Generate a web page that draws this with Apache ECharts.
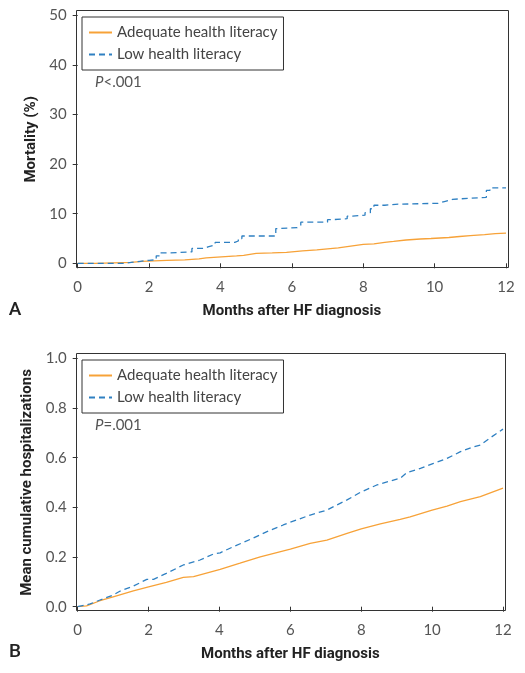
<!DOCTYPE html>
<html><head><meta charset="utf-8">
<script src="https://cdn.jsdelivr.net/npm/echarts@6/dist/echarts.min.js"></script>
<style>html,body{margin:0;padding:0;background:#fff}#c{width:525px;height:673px}</style>
</head><body><div id="c"></div>
<script>
// ---- data ----
const seriesNames = ['Adequate health literacy', 'Low health literacy'];
const xTicks = [0, 2, 4, 6, 8, 10, 12];
const mortTicks = [0, 10, 20, 30, 40, 50];
const hospTicks = [0.0, 0.2, 0.4, 0.6, 0.8, 1.0];

// Panel A: mortality (%)
const mortAdqX = [0,0.5,1.0,1.5,1.8,2.5,3.0,3.4,3.6,4.45,4.65,5.0,5.45,5.85,6.3,6.7,7.0,7.3,7.5,7.8,8.0,8.3,8.6,8.85,9.2,9.6,9.9,10.4,10.7,11.0,11.4,11.7,12];
const mortAdqY = [0,0.1,0.2,0.4,0.6,0.7,0.9,1.1,1.5,1.6,2.0,2.1,2.2,2.5,2.7,2.9,3.1,3.3,3.6,3.8,3.9,4.2,4.4,4.7,4.9,5.0,5.2,5.4,5.6,5.8,6.0,6.1,6.2];
const mortLowX = [0,1.3,1.5,1.75,2.0,2.2,2.3,2.6,3.2,3.55,3.65,3.85,4.4,4.5,4.6,5.55,5.65,6.15,6.25,7.0,7.15,7.55,7.7,8.05,8.2,8.3,8.6,8.9,10.1,10.3,10.5,11.45,11.55,12];
const mortLowY = [0,0.2,0.4,0.6,0.7,1.5,2.1,2.3,3.0,3.3,3.7,4.2,4.5,5.0,5.5,7.0,7.2,7.6,8.3,8.8,9.0,9.5,9.7,10.2,11.0,11.7,11.9,12.1,12.5,12.9,13.3,14.7,15.2,15.3];

// Panel B: mean cumulative hospitalizations
const hospAdqX = [0,0.25,0.63,1.0,1.57,2.0,2.5,2.98,3.27,4.02,4.58,5.15,6.0,6.56,7.03,7.6,8.0,8.54,9.1,9.38,10.0,10.42,10.8,11.36,12];
const hospAdqY = [0,0.003,0.024,0.04,0.064,0.08,0.098,0.118,0.121,0.15,0.175,0.201,0.232,0.255,0.268,0.295,0.313,0.333,0.352,0.362,0.389,0.405,0.423,0.443,0.477];
const hospLowX = [0,0.35,0.63,1.0,1.2,1.57,1.95,2.14,2.5,2.98,3.45,3.83,4.02,4.4,4.87,5.34,5.8,6.0,6.56,7.03,7.22,7.6,7.97,8.44,8.91,9.1,9.29,9.67,10.04,10.42,10.8,11.17,11.36,11.64,12];
const hospLowY = [0,0.011,0.027,0.047,0.063,0.083,0.11,0.11,0.134,0.168,0.188,0.212,0.217,0.242,0.271,0.302,0.329,0.34,0.369,0.389,0.403,0.43,0.46,0.49,0.51,0.517,0.54,0.557,0.577,0.597,0.624,0.644,0.651,0.68,0.715];

// ---- styling / layout ----
const ORANGE = '#f7a238', BLUE = '#2f80c2', INK = '#333', LABEL = '#555';
const FONT = 'Lato, "Open Sans", sans-serif';
const TITLEFONT = 'Roboto, "Liberation Sans", sans-serif';
const G = [
  {left: 77.7, top: 15.3, width: 428.3, height: 248},
  {left: 77.7, top: 358.3, width: 425.3, height: 248.4}
];
const pairs = (xs, ys) => xs.map((x, i) => [x, ys[i]]);

function xAxis(i) {
  return {
    type: 'value', gridIndex: i, min: xTicks[0], max: xTicks[xTicks.length-1], interval: 2,
    offset: 4,
    name: 'Months after HF diagnosis', nameLocation: 'middle', nameGap: 36,
    nameTextStyle: {fontFamily: TITLEFONT, fontWeight: 'bold', fontSize: 15, color: '#222'},
    axisLine: {show: false}, splitLine: {show: false},
    axisTick: {show: true, length: 5, lineStyle: {color: INK}},
    axisLabel: {fontFamily: FONT, fontSize: 15, color: LABEL, margin: 12}
  };
}
function yAxis(i, ticks, name, fmt) {
  return {
    type: 'value', gridIndex: i, min: ticks[0], max: ticks[ticks.length-1], interval: ticks[1]-ticks[0],
    offset: 2,
    name: name, nameLocation: 'middle', nameGap: i === 0 ? 33 : 37,
    nameTextStyle: {fontFamily: TITLEFONT, fontWeight: 'bold', fontSize: 15, color: '#222'},
    axisLine: {show: false}, splitLine: {show: false},
    axisTick: {show: true, length: 5, lineStyle: {color: INK}},
    axisLabel: {fontFamily: FONT, fontSize: 15, color: LABEL, margin: 9, formatter: fmt}
  };
}
function legend(top) {
  return {
    show: true, orient: 'vertical', left: 82, top: top,
    data: seriesNames, selectedMode: false,
    borderColor: INK, borderWidth: 1, padding: [8, 6, 8, 6],
    itemWidth: 23, itemHeight: 14, itemGap: 7,
    itemStyle: {opacity: 0, borderWidth: 0},
    textStyle: {fontFamily: FONT, fontSize: 15, color: '#444'}
  };
}
function line(name, xi, data, color, dashed, step) {
  return {
    type: 'line', name: name, xAxisIndex: xi, yAxisIndex: xi,
    data: data, step: step, symbol: 'none', silent: true, animation: false,
    lineStyle: {color: color, width: 1.3, type: dashed ? [6, 4] : 'solid'},
    itemStyle: {color: color}
  };
}

const chart = echarts.init(document.getElementById('c'), null, {renderer: 'canvas'});
chart.setOption({
  backgroundColor: '#fff',
  animation: false,
  grid: G.map(g => Object.assign({containLabel: false}, g)),
  xAxis: [xAxis(0), xAxis(1)],
  yAxis: [
    yAxis(0, mortTicks, 'Mortality (%)', v => String(v)),
    yAxis(1, hospTicks, 'Mean cumulative hospitalizations', v => v.toFixed(1))
  ],
  legend: [legend(17), legend(360)],
  series: [
    line(seriesNames[0], 0, pairs(mortAdqX, mortAdqY), ORANGE, false, 'end'),
    line(seriesNames[1], 0, pairs(mortLowX, mortLowY), BLUE, true, 'end'),
    line(seriesNames[0], 1, pairs(hospAdqX, hospAdqY), ORANGE, false, false),
    line(seriesNames[1], 1, pairs(hospLowX, hospLowY), BLUE, true, false)
  ]
});

// frames and annotations (derived from axis positions)
function frame(i, yTop) {
  const p0 = chart.convertToPixel({gridIndex: i}, [xTicks[0], 0]);
  const p1 = chart.convertToPixel({gridIndex: i}, [xTicks[xTicks.length-1], yTop]);
  return {x: p0[0] - 1.7, y: p1[1] - 5, w: (p1[0] + 2) - (p0[0] - 1.7), h: (p0[1] + 4) - (p1[1] - 5)};
}
const fA = frame(0, 50), fB = frame(1, 1.0);
function rect(f) {
  return {type: 'rect', shape: {x: Math.round(f.x) + 0.5, y: Math.round(f.y) + 0.5, width: Math.round(f.w), height: Math.round(f.h)},
    style: {fill: null, stroke: INK, lineWidth: 1}, silent: true, z: 10};
}
function ptext(f, str) {
  return {type: 'text', x: f.x + 19, y: f.y + 72, silent: true, z: 10,
    style: {text: '{i|P}' + str, verticalAlign: 'middle',
      rich: {i: {fontStyle: 'italic', fontFamily: FONT, fontSize: 15, fill: '#555'}},
      font: '15px ' + FONT, fill: '#555'}};
}
function panelLabel(txt, y) {
  return {type: 'text', x: 15, y: y, silent: true,
    style: {text: txt, font: '500 19px ' + TITLEFONT, fill: '#222', align: 'center', verticalAlign: 'middle'}};
}
chart.setOption({
  graphic: [
    rect(fA), rect(fB),
    ptext(fA, '<.001'), ptext(fB, '=.001'),
    panelLabel('A', 310), panelLabel('B', 652)
  ]
});
</script></body></html>
